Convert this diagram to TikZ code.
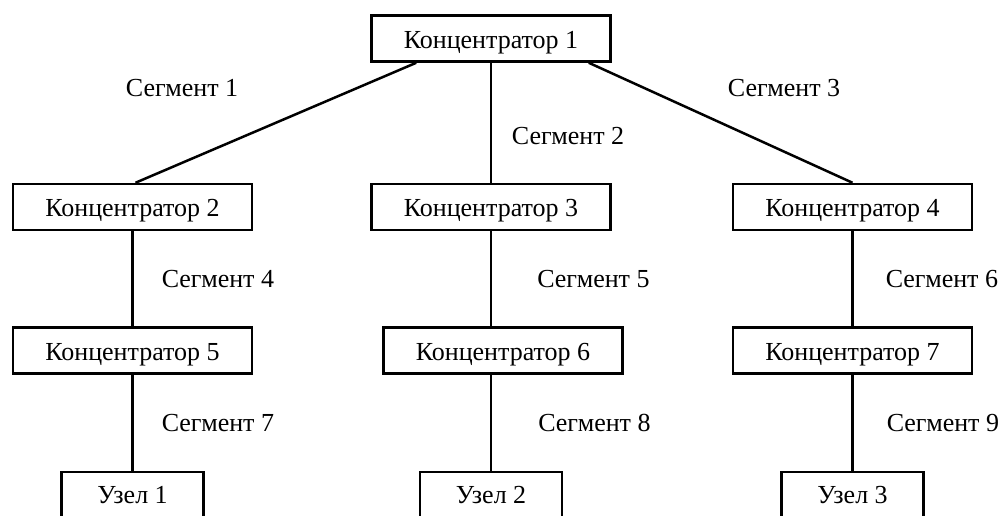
\documentclass[tikz,border=0pt]{standalone}
\usepackage{fontspec}
\setmainfont{Liberation Serif}
\usetikzlibrary{positioning}

\begin{document}
\begin{tikzpicture}
  [x=1pt,y=-1pt,
   hubN/.style={rectangle,draw,line width=2.5pt,minimum width=239pt,minimum height=46pt,
     inner sep=0pt,text height=19pt,text depth=0pt},
   hostN/.style={hubN,minimum width=142pt,text height=17pt},
   segL/.style={inner sep=0pt},
   node distance=95pt,
   font=\fontsize{26}{30}\selectfont]

  \useasboundingbox (0,0) rectangle (1003,515);

  \node[hubN] (k1) at (491,38.5) {Концентратор 1};
  \node[hubN] (k3) [below=120pt of k1] {Концентратор 3};
  \node[hubN] (k2) [left=117pt of k3] {Концентратор 2};
  \node[hubN] (k4) [right=120pt of k3] {Концентратор 4};
  \node[hubN] (k5) [below=of k2] {Концентратор 5};
  \node[hubN] (k6) [below=of k3,xshift=12pt] {Концентратор 6};
  \node[hubN] (k7) [below=of k4] {Концентратор 7};
  \node[hostN] (u1) [below=96pt of k5] {Узел 1};
  \node[hostN] (u2) [below=96pt of k6,xshift=-12pt] {Узел 2};
  \node[hostN] (u3) [below=96pt of k7] {Узел 3};

  \node[segL] (s1) at (182,88) {Сегмент 1};
  \node[segL] (s2) at (568,136) {Сегмент 2};
  \node[segL] (s3) at (784,88) {Сегмент 3};

  \begin{scope}[line width=2.5pt]
    \draw ([xshift=46pt]k1.south west) -- ([xshift=3pt]k2.north);
    \draw (k1) -- (k3);
    \draw ([xshift=-23pt]k1.south east) -- (k4.north);
    \draw (k2) -- node[segL,right=28pt] {Сегмент 4} (k5);
    \draw (k3.south) -- node[segL,right=45pt] {Сегмент 5} (k3.south |- k6.north);
    \draw (k4) -- node[segL,right=32pt] {Сегмент 6} (k7);
    \draw (k5) -- node[segL,right=28pt] {Сегмент 7} (u1);
    \draw (u2.north |- k6.south) -- node[segL,right=46pt] {Сегмент 8} (u2.north);
    \draw (k7) -- node[segL,right=33pt] {Сегмент 9} (u3);
  \end{scope}
\end{tikzpicture}
\end{document}
